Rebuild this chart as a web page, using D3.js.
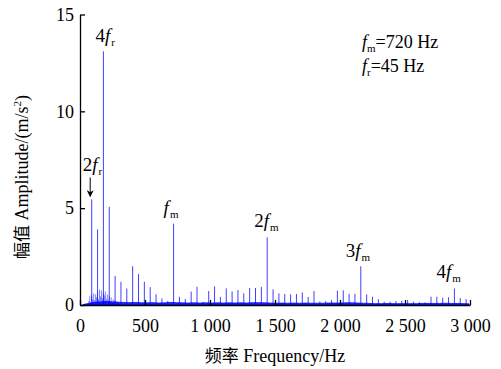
<!DOCTYPE html>
<html>
<head>
<meta charset="utf-8">
<script src="https://cdn.jsdelivr.net/npm/d3@7"></script>
<style>
  body { margin: 0; background: #fff; }
  svg { font-family: 'Liberation Serif', 'Times New Roman', serif; }
</style>
</head>
<body>
<script>
// harmonic order k (frequency = k * fr) and peak amplitude
var fr = 45
var harmonic = [2, 3, 4, 5, 6, 7, 8, 9, 10, 11, 12, 13, 14, 15, 16, 17, 18, 19, 20, 21,
  22, 23, 24, 25, 26, 27, 28, 29, 30, 31, 32, 33, 34, 35, 36, 37, 38, 39, 40, 41,
  42, 43, 44, 45, 46, 47, 48, 49, 50, 51, 52, 53, 54, 55, 56, 57, 58, 59, 60, 61,
  62, 63, 64, 65, 66]
var peak = [5.45, 3.9, 13.1, 5.07, 1.5, 1.2, 0.85, 2.0, 1.6, 1.2, 0.92, 0.55, 0.34, 0.2, 4.2, 0.42, 0.31, 0.69, 0.94, 0.16,
  0.72, 0.96, 0.42, 0.86, 0.7, 0.77, 0.6, 0.88, 0.88, 0.94, 3.5, 0.81, 0.6, 0.57, 0.55, 0.57, 0.65, 0.42, 0.72, 0.18,
  0.2, 0.26, 0.74, 0.76, 0.58, 0.58, 2.0, 0.55, 0.43, 0.3, 0.17, 0.17, 0.2, 0.22, 0.26, 0.17, 0.15, 0.14, 0.43, 0.43,
  0.37, 0.4, 0.85, 0.36, 0.3]
// noise floor between harmonics, one value per 45 Hz band starting at 22.5 Hz
var floorAmp = [0.02, 0.08, 0.14, 0.16, 0.18, 0.16, 0.14, 0.13, 0.12, 0.13, 0.11, 0.11, 0.12, 0.1, 0.11, 0.13, 0.12, 0.11, 0.1, 0.11,
  0.1, 0.11, 0.1, 0.11, 0.1, 0.11, 0.1, 0.11, 0.1, 0.12, 0.12, 0.11, 0.1, 0.09, 0.1, 0.09, 0.1, 0.09, 0.1, 0.09,
  0.09, 0.09, 0.1, 0.1, 0.1, 0.11, 0.11, 0.1, 0.09, 0.08, 0.07, 0.07, 0.08, 0.07, 0.07, 0.07, 0.07, 0.07, 0.08, 0.08,
  0.08, 0.08, 0.09, 0.08, 0.08, 0.07, 0.06]
// low-frequency noise hump, 60 Hz to 300 Hz in 7.5 Hz steps
var humpStart = 60
var humpStep = 7.5
var hump = [0.05, 0.2, 0.45, 0.15, 0.5, 0.3, 0.6, 0.25, 0.55, 0.4, 0.7, 0.3, 0.8, 0.45, 0.75, 0.35, 0.6,
  0.5, 0.7, 0.3, 0.55, 0.25, 0.45, 0.2, 0.4, 0.15, 0.3, 0.2, 0.25, 0.1, 0.2, 0.12, 0.1]
var xTicks = [0, 500, 1000, 1500, 2000, 2500, 3000]
var yTicks = [0, 5, 10, 15]

var w = 501
var h = 369

var x = d3.scaleLinear().domain([0, 3000]).range([80, 470])
var y = d3.scaleLinear().domain([0, 15]).range([305, 14.5])

var fmt = d3.formatLocale({ decimal: '.', thousands: ' ', grouping: [3], currency: ['', ''] }).format(',')

var svg = d3.select('body').append('svg')
  .attr('width', w)
  .attr('height', h)

// noise floor
var floorPts = floorAmp.map(function (v, i) { return [(i + 0.5) * fr, v] })
svg.append('path')
  .datum(floorPts)
  .attr('fill', '#0000ff')
  .attr('fill-opacity', 0.85)
  .attr('stroke', '#0000ff')
  .attr('stroke-width', 0.8)
  .attr('d', d3.area()
    .x(function (d) { return x(d[0]) })
    .y0(y(0))
    .y1(function (d) { return y(d[1]) }))

// low-frequency noise as thin vertical strokes
svg.selectAll('line.noise')
  .data(hump)
  .enter().append('line')
    .attr('class', 'noise')
    .attr('x1', function (d, i) { return x(humpStart + i * humpStep) })
    .attr('x2', function (d, i) { return x(humpStart + i * humpStep) })
    .attr('y1', y(0))
    .attr('y2', function (d) { return y(d) })
    .attr('stroke', '#0000ff')
    .attr('stroke-opacity', 0.7)
    .attr('stroke-width', 0.7)

// harmonic spikes
svg.selectAll('line.spike')
  .data(harmonic)
  .enter().append('line')
    .attr('class', 'spike')
    .attr('x1', function (d) { return x(d * fr) })
    .attr('x2', function (d) { return x(d * fr) })
    .attr('y1', y(0))
    .attr('y2', function (d, i) { return y(peak[i]) })
    .attr('stroke', '#0000ff')
    .attr('stroke-opacity', 0.75)
    .attr('stroke-width', 1)

// axes
var yAxis = d3.axisLeft(y)
  .tickValues(yTicks)
  .tickSizeInner(-5)
  .tickSizeOuter(0)
  .tickPadding(6)
var xAxis = d3.axisBottom(x)
  .tickValues(xTicks)
  .tickFormat(fmt)
  .tickSizeInner(-5)
  .tickSizeOuter(0)
  .tickPadding(14)

var gy = svg.append('g').attr('transform', 'translate(80,0)').call(yAxis)
var gx = svg.append('g').attr('transform', 'translate(0,305)').call(xAxis)
;[gx, gy].forEach(function (g) {
  g.selectAll('path, line').attr('stroke', '#000').attr('stroke-width', 1.3)
  g.selectAll('text').attr('font-size', 18).attr('fill', '#000')
    .style('font-family', "'Liberation Serif', serif")
})

// axis titles
svg.append('text')
  .attr('x', 275)
  .attr('y', 362)
  .attr('text-anchor', 'middle')
  .attr('font-size', 18)
  .html('<tspan font-family="Noto Sans CJK SC" font-size="17">频率</tspan> Frequency/Hz')

svg.append('text')
  .attr('transform', 'translate(28,177) rotate(-90)')
  .attr('text-anchor', 'middle')
  .attr('font-size', 18)
  .html('<tspan font-family="Noto Sans CJK SC" font-size="17">幅值</tspan> Amplitude/(m/s<tspan font-size="11" dy="-7">2</tspan><tspan dy="7">)</tspan>')

// peak labels: [coefficient, subscript, frequency, amplitude, dx, dy]
var labels = [
  ['4', 'r', 4 * fr, 13.1, -8, -9],
  ['2', 'r', 2 * fr, 5.45, -9, -28],
  ['', 'm', 720, 4.2, -10, -10],
  ['2', 'm', 1440, 3.5, -13, -10],
  ['3', 'm', 2160, 2.0, -15, -9],
  ['4', 'm', 2880, 0.85, -18, -11]
]
labels.forEach(function (l) {
  svg.append('text')
    .attr('x', x(l[2]) + l[4])
    .attr('y', y(l[3]) + l[5])
    .attr('font-size', 19)
    .html(l[0] + '<tspan font-style="italic">f</tspan><tspan font-size="11" dx="1" dy="4">' + l[1] + '</tspan>')
})

// arrow to 2fr
svg.append('defs').append('marker')
  .attr('id', 'ah')
  .attr('viewBox', '0 0 10 10')
  .attr('refX', 9).attr('refY', 5)
  .attr('markerWidth', 7).attr('markerHeight', 7)
  .attr('orient', 'auto')
  .append('path').attr('d', 'M0,0L10,5L0,10L3,5Z').attr('fill', '#000')
svg.append('line')
  .attr('x1', x(2 * fr) - 1.5).attr('y1', y(5.45) - 22)
  .attr('x2', x(2 * fr) - 1.5).attr('y2', y(5.45) - 3)
  .attr('stroke', '#000').attr('stroke-width', 1)
  .attr('marker-end', 'url(#ah)')

// parameter note
var note = [['m', '=720 Hz'], ['r', '=45 Hz']]
note.forEach(function (n, i) {
  svg.append('text')
    .attr('x', 362)
    .attr('y', 48 + i * 24)
    .attr('font-size', 18)
    .html('<tspan font-style="italic">f</tspan><tspan font-size="11" dy="4">' + n[0] + '</tspan><tspan dy="-4">' + n[1] + '</tspan>')
})
</script>
</body>
</html>
